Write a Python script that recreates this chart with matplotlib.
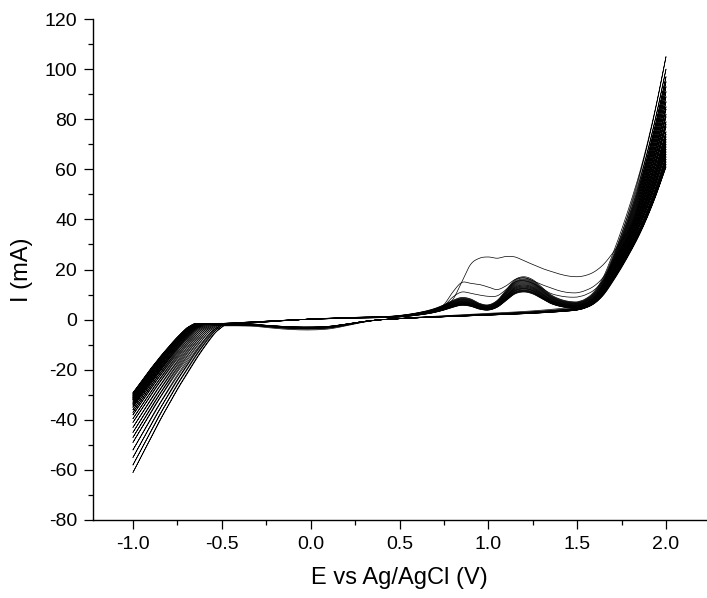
import numpy as np
import matplotlib
matplotlib.use("Agg")
import matplotlib.pyplot as plt
from matplotlib.ticker import MultipleLocator

plt.rcParams['font.family'] = ['Liberation Sans', 'DejaVu Sans']
plt.rcParams['axes.unicode_minus'] = False

# current at the switching potentials, one value per cycle (mA)
i_at_2v = [66, 70, 74, 105, 100, 97, 95, 93, 91, 89, 87, 85, 84, 82, 81,
           79, 78, 77, 75, 73, 72, 71, 69, 68, 67, 65, 64, 63, 62, 61]
i_at_m1v = [-61, -58, -55, -52, -49, -47, -45, -43, -41, -39.5, -38, -37,
            -36, -35, -34.5, -34, -33.5, -33, -32.5, -32, -31.8, -31.5,
            -31.2, -31, -30.7, -30.4, -30.1, -29.8, -29.5, -29.2]
# potential where the cathodic current takes off (V)
cath_onset = [-0.48, -0.49, -0.50, -0.51, -0.52, -0.53, -0.54, -0.55, -0.56,
              -0.57, -0.58, -0.59, -0.60, -0.60, -0.61, -0.61, -0.62, -0.62,
              -0.62, -0.63, -0.63, -0.63, -0.63, -0.64, -0.64, -0.64, -0.64,
              -0.65, -0.65, -0.65]

# forward scan, -0.5 .. 1.55 V
fwd_e = [-0.5, -0.25, 0.0, 0.25, 0.5, 0.6, 0.7, 0.75, 0.8, 0.85, 0.9, 0.95,
         1.0, 1.05, 1.1, 1.15, 1.2, 1.25, 1.3, 1.35, 1.4, 1.45, 1.5, 1.55]
fwd_cycle1 = [-2.0, -0.8, 0.2, 0.8, 1.4, 2.5, 4.0, 5.5, 8.0, 15.0, 22.0, 24.5,
              25.0, 24.5, 25.2, 25.0, 23.5, 22.0, 20.5, 19.3, 18.2, 17.4,
              17.1, 17.3]
fwd_cycle2 = [-2.0, -0.8, 0.2, 0.8, 1.4, 2.5, 4.0, 6.0, 11.0, 14.8, 14.5,
              14.0, 13.0, 12.0, 13.5, 16.0, 16.7, 15.5, 14.0, 12.7, 11.5,
              10.8, 10.7, 11.3]
fwd_cycle3 = [-2.0, -0.8, 0.2, 0.8, 1.4, 2.4, 3.9, 5.5, 9.0, 11.0, 10.5, 9.8,
              9.3, 9.5, 12.0, 15.0, 15.5, 14.5, 12.5, 10.5, 9.5, 9.0, 9.0, 9.5]
fwd_bundle = [-2.0, -0.8, 0.2, 0.8, 1.4, 2.3, 3.8, 5.0, 6.5, 7.5, 7.0, 5.5,
              5.0, 6.5, 10.0, 13.5, 14.5, 13.5, 11.0, 8.5, 7.0, 6.2, 6.0, 6.5]
bundle_scale = [1.18, 1.15, 1.12, 1.10, 1.08, 1.06, 1.04, 1.02, 1.00, 0.98,
                0.96, 0.95, 0.93, 0.92, 0.90, 0.89, 0.87, 0.86, 0.85, 0.84,
                0.82, 0.81, 0.80, 0.79, 0.78, 0.77, 0.76]

# reverse scan, -0.5 .. 1.55 V
rev_e = [-0.5, -0.4, -0.3, -0.2, -0.1, 0.0, 0.1, 0.2, 0.3, 0.4, 0.5, 0.6,
         0.8, 1.0, 1.2, 1.3, 1.4, 1.5, 1.55]
rev_i = [-2.0, -2.0, -2.2, -2.8, -3.2, -3.3, -3.0, -2.0, -0.8, 0.0, 0.4, 0.8,
         1.4, 2.0, 2.6, 3.0, 3.5, 4.2, 4.8]
rev_scale = [1.25, 1.15, 1.1, 1.08, 1.06, 1.05, 1.04, 1.03, 1.02, 1.01, 1.0,
             1.0, 0.99, 0.98, 0.98, 0.97, 0.97, 0.96, 0.96, 0.95, 0.95, 0.94,
             0.94, 0.93, 0.93, 0.92, 0.92, 0.91, 0.91, 0.90]

# shape of the oxygen evolution wave (fraction of final current)
rise_e = [1.5, 1.55, 1.6, 1.65, 1.7, 1.75, 1.8, 1.85, 1.9, 1.95, 2.0]
rise_frac = [0.0, 0.008, 0.04, 0.1, 0.19, 0.29, 0.40, 0.52, 0.66, 0.82, 1.0]
# shape of the cathodic wave vs. distance from onset (0..1)
cath_u = [0.0, 0.1, 0.2, 0.3, 0.4, 0.5, 0.6, 0.7, 0.8, 0.9, 1.0]
cath_frac = [0.0, 0.05, 0.13, 0.22, 0.32, 0.42, 0.53, 0.64, 0.76, 0.88, 1.0]


def hermite(xk, yk, x):
    xk = np.asarray(xk, float)
    yk = np.asarray(yk, float)
    x = np.clip(x, xk[0], xk[-1])
    m = np.gradient(yk, xk)
    i = np.clip(np.searchsorted(xk, x) - 1, 0, len(xk) - 2)
    h = xk[i + 1] - xk[i]
    t = (x - xk[i]) / h
    return ((2*t**3 - 3*t**2 + 1) * yk[i] + (t**3 - 2*t**2 + t) * h * m[i]
            + (-2*t**3 + 3*t**2) * yk[i + 1] + (t**3 - t**2) * h * m[i + 1])


def branch(e, knots_e, knots_i, ipos, ineg, onset):
    base = hermite(knots_e, knots_i, e)
    top = knots_i[-1]
    low = knots_i[0]
    up = (ipos - top) * hermite(rise_e, rise_frac, e)
    u = np.clip((onset - e) / (onset + 1.0), 0, 1)
    down = (ineg - low) * hermite(cath_u, cath_frac, u)
    return base + up + down


E = np.linspace(-1.0, 2.0, 1201)

fig = plt.figure(figsize=(7.07, 5.98), dpi=100)
ax = fig.add_axes([93/707, 1 - 520/598, 613/707, 501/598])

for k in range(len(i_at_2v)):
    if k == 0:
        fk = fwd_cycle1
    elif k == 1:
        fk = fwd_cycle2
    elif k == 2:
        fk = fwd_cycle3
    else:
        fk = [v * bundle_scale[k - 3] for v in fwd_bundle]
    rk = [v * rev_scale[k] for v in rev_i]
    fwd = branch(E, fwd_e, fk, i_at_2v[k], i_at_m1v[k], cath_onset[k])
    rev = branch(E, rev_e, rk, i_at_2v[k], i_at_m1v[k], cath_onset[k] - 0.01)
    x = np.concatenate([E, E[::-1]])
    y = np.concatenate([fwd, rev[::-1]])
    ax.plot(x, y, color='black', lw=0.5)

ax.set_xlim(-1.225, 2.225)
ax.set_ylim(-80, 120)
ax.xaxis.set_major_locator(MultipleLocator(0.5))
ax.xaxis.set_minor_locator(MultipleLocator(0.25))
ax.yaxis.set_major_locator(MultipleLocator(20))
ax.yaxis.set_minor_locator(MultipleLocator(10))
ax.spines['top'].set_visible(False)
ax.spines['right'].set_visible(False)
for s in ('left', 'bottom'):
    ax.spines[s].set_linewidth(1.0)
ax.tick_params(which='major', direction='out', length=6.5, width=0.9,
               labelsize=14, pad=5)
ax.tick_params(which='minor', direction='out', length=3.5, width=0.9)
ax.set_xlabel('E vs Ag/AgCl (V)', fontsize=17, labelpad=10)
ax.set_ylabel('I (mA)', fontsize=17, labelpad=8)

fig.savefig('out.png', dpi=100)
